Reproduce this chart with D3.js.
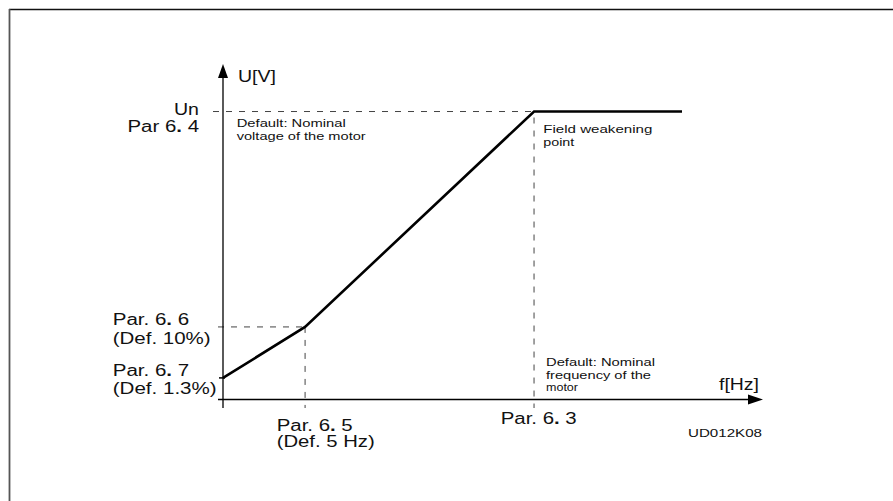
<!DOCTYPE html>
<html><head><meta charset="utf-8">
<script src="https://cdn.jsdelivr.net/npm/d3@7"></script>
<style>
html,body{margin:0;padding:0;background:#fff;}
svg{display:block;font-family:"Liberation Sans",Arial,Helvetica,sans-serif;}
</style></head>
<body>
<svg id="chart" width="893" height="501"></svg>
<script>
// ---- data (schematic units: f in % of axis length, U in % of Un) ----
const curveF = [0, 15.2, 57.6, 85];
const curveU = [7.5, 25.2, 100, 100];
const axisMaxF = 100;
const axisMaxU = 116.5;
const parF65 = 15.2;   // Par. 6.5
const parF63 = 57.6;   // Par. 6.3 (field weakening point)
const parU66 = 25.2;   // Par. 6.6
const parU67 = 7.5;    // Par. 6.7
const parU64 = 100;    // Par 6.4 (Un)

const yLabels = [
  ["Un", "Par 6. 4"],
  ["Par. 6. 6", "(Def. 10%)"],
  ["Par. 6. 7", "(Def. 1.3%)"]
];
const xLabels = [
  ["Par. 6. 5", "(Def. 5 Hz)"],
  ["Par. 6. 3"]
];
const notes = [
  ["Default: Nominal", "voltage of the motor"],
  ["Field weakening", "point"],
  ["Default: Nominal", "frequency of the", "motor"]
];
const axisTitles = ["U[V]", "f[Hz]"];
const figureCode = "UD012K08";

// ---- layout ----
const svg = d3.select("#chart");
const x = d3.scaleLinear().domain([0, axisMaxF]).range([223, 763]);
const y = d3.scaleLinear().domain([0, axisMaxU]).range([399.5, 64]);

// frame
svg.append("line").attr("x1", 9).attr("x2", 893).attr("y1", 9.5).attr("y2", 9.5)
  .attr("stroke", "#111").attr("stroke-width", 1.6);
svg.append("line").attr("x1", 9.5).attr("x2", 9.5).attr("y1", 9).attr("y2", 501)
  .attr("stroke", "#555").attr("stroke-width", 1.8);

// dashed guides
const dash = "6,7";
const g = svg.append("g").attr("stroke", "#444").attr("stroke-width", 1).attr("stroke-dasharray", dash).attr("fill", "none");
g.append("line").attr("x1", 213).attr("x2", x(parF63)).attr("y1", y(parU64)).attr("y2", y(parU64));
g.append("line").attr("x1", x(parF63)).attr("x2", x(parF63)).attr("y1", y(parU64) + 6).attr("y2", 408);
g.append("line").attr("x1", 218).attr("x2", x(parF65)).attr("y1", y(parU66)).attr("y2", y(parU66));
g.append("line").attr("x1", x(parF65)).attr("x2", x(parF65)).attr("y1", y(parU66)).attr("y2", 408);

// axes
svg.append("line").attr("x1", x(0)).attr("x2", x(0)).attr("y1", 408).attr("y2", y(axisMaxU) + 10)
  .attr("stroke", "#000").attr("stroke-width", 1.3);
svg.append("line").attr("x1", 218).attr("x2", x(axisMaxF) - 12).attr("y1", y(0)).attr("y2", y(0))
  .attr("stroke", "#000").attr("stroke-width", 1.3);
svg.append("path")
  .attr("d", `M${x(0)},${y(axisMaxU)} L${x(0) - 5},${y(axisMaxU) + 14} L${x(0) + 5},${y(axisMaxU) + 14} Z`)
  .attr("fill", "#000");
svg.append("path")
  .attr("d", `M${x(axisMaxF)},${y(0)} L${x(axisMaxF) - 15},${y(0) - 5} L${x(axisMaxF) - 15},${y(0) + 5} Z`)
  .attr("fill", "#000");

// small tick at start
svg.append("line").attr("x1", x(0) - 4).attr("x2", x(0) + 2).attr("y1", y(parU67)).attr("y2", y(parU67))
  .attr("stroke", "#000").attr("stroke-width", 1.5);

// curve
const pts = curveF.map((f, i) => [f, curveU[i]]);
svg.append("path").datum(pts)
  .attr("d", d3.line().x(d => x(d[0])).y(d => y(d[1])))
  .attr("fill", "none").attr("stroke", "#000").attr("stroke-width", 2.6)
  .attr("stroke-linejoin", "miter");

// text helper
function txt(str, tx, ty, size, width) {
  const t = svg.append("text").attr("x", tx).attr("y", ty)
    .attr("font-size", size).attr("fill", "#111");
  if (width) t.attr("textLength", width).attr("lengthAdjust", "spacingAndGlyphs");
  const parts = str.split(/(\d\.(?= ))/);
  parts.forEach(p => {
    if (/^\d\.$/.test(p)) {
      t.append("tspan").text(p[0]);
      t.append("tspan").attr("font-weight", "bold").text(".");
    } else if (p.length) {
      t.append("tspan").text(p);
    }
  });
  return t;
}

const big = 16, small = 11;
txt(axisTitles[0], 238, 81.5, big, 38);
txt(axisTitles[1], 719, 390, big, 40);

txt(yLabels[0][0], 174, 114.5, big, 25);
txt(yLabels[0][1], 127.5, 132, big, 71.5);
txt(yLabels[1][0], 112.7, 325, big, 76.5);
txt(yLabels[1][1], 112.7, 343.5, big, 98);
txt(yLabels[2][0], 112.7, 376, big, 76.5);
txt(yLabels[2][1], 112.7, 393.5, big, 104);

txt(xLabels[0][0], 276.7, 430.5, big, 76);
txt(xLabels[0][1], 276.7, 447, big, 98);
txt(xLabels[1][0], 500.7, 424, big, 76);

txt(notes[0][0], 236.7, 127, small, 109);
txt(notes[0][1], 236.7, 139.5, small, 129);
txt(notes[1][0], 543.3, 133, small, 109);
txt(notes[1][1], 543.3, 145.5, small, 31);
txt(notes[2][0], 546, 366, small, 109);
txt(notes[2][1], 546, 378.5, small, 105);
txt(notes[2][2], 546, 391, small, 32);

txt(figureCode, 688, 437, small, 74);
</script>
</body></html>
